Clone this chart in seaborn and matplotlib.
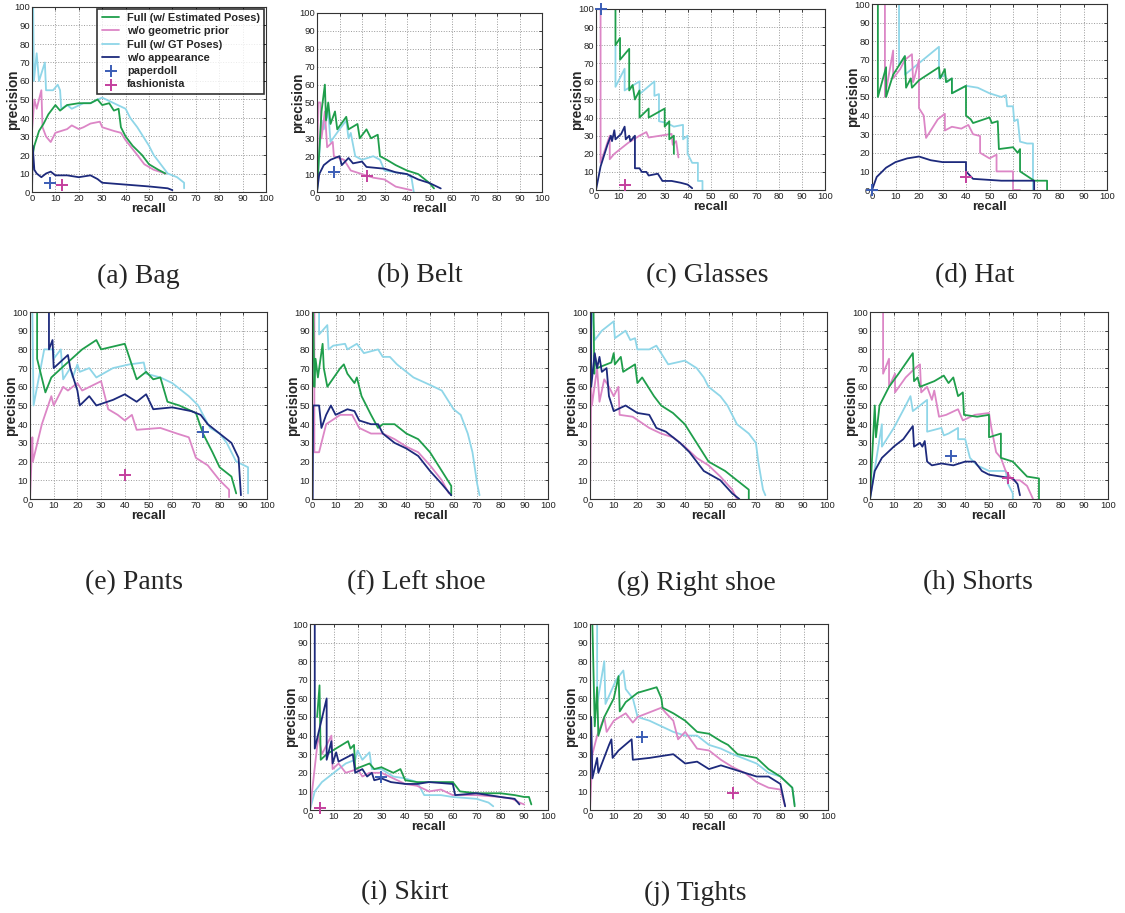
import matplotlib
matplotlib.use("Agg")
import matplotlib.pyplot as plt
import pandas as pd
import seaborn as sns

# ---------------- data (recall, precision) ----------------
SERIES_NAMES = ["Full (w/ Estimated Poses)", "w/o geometric prior",
                "Full (w/ GT Poses)", "w/o appearance"]
MARKER_NAMES = ["paperdoll", "fashionista"]
TICKS = [0, 10, 20, 30, 40, 50, 60, 70, 80, 90, 100]

# (a) Bag
BAG_EST = [(0.3, 20), (1, 25), (3, 33), (5, 37), (7, 42), (10, 47), (12, 44), (15, 47), (20, 48),
           (25, 48), (28, 50), (30, 47), (33, 48), (35, 44), (37, 45), (38, 35), (40, 30), (43, 25),
           (47, 20), (50, 15), (54, 12), (57, 10)]
BAG_NOGEO = [(0, 33), (1, 50), (2, 45), (4, 55), (4.5, 35), (6, 30), (8, 27), (10, 32), (15, 34),
             (17, 36), (20, 34), (22, 35), (25, 37), (29, 38), (30, 35), (35, 33), (38, 32), (40, 28),
             (45, 20), (48, 15), (52, 12), (57, 10)]
BAG_GT = [(0.5, 100), (0.8, 60), (2, 75), (3, 60), (5.5, 70), (6, 55), (9, 55), (11, 58), (12, 55),
          (12.5, 45), (15, 47), (17, 45), (22, 48), (25, 48), (28, 50), (30, 51), (35, 48), (40, 45),
          (42, 40), (45, 35), (50, 25), (52, 20), (55, 15), (58, 10), (62, 8), (65, 5), (65, 2)]
BAG_NOAPP = [(0, 0), (0.3, 25), (1, 12), (2, 10), (4, 8), (6, 10), (8, 11), (10, 9), (15, 9), (20, 8),
             (25, 9), (28, 7), (30, 5), (40, 4), (50, 3), (58, 2), (60, 1)]
BAG_PAPERDOLL = (7.5, 5)
BAG_FASHIONISTA = (13, 4)

# (b) Belt
BELT_EST = [(0, 0), (2, 45), (3.5, 60), (4, 40), (5, 50), (6, 38), (8, 45), (9, 35), (13, 42), (14, 35),
            (18, 38), (19, 30), (22, 35), (24, 30), (27, 32), (28, 20), (31, 18), (35, 15), (40, 12),
            (45, 10), (50, 5), (52, 2)]
BELT_NOGEO = [(0, 0), (0.5, 50), (1.5, 50), (2, 30), (3.5, 45), (4.5, 25), (7, 28), (7.5, 20), (12, 18),
              (15, 12), (20, 10), (25, 8), (30, 7), (35, 3), (42, 1)]
BELT_GT = [(0, 0), (2, 40), (3, 35), (5, 45), (6, 28), (10, 35), (13, 40), (14, 30), (15, 33), (17, 20),
           (20, 18), (25, 20), (28, 18), (30, 12), (40, 10), (42, 8), (43, 0)]
BELT_NOAPP = [(0, 0), (1, 10), (3, 15), (6, 18), (10, 20), (11, 15), (14, 19), (16, 16), (20, 17), (22, 14),
              (30, 13), (35, 11), (40, 10), (45, 7), (50, 5), (55, 2)]
BELT_PAPERDOLL = (7.5, 11)
BELT_FASHIONISTA = (22, 9)

# (c) Glasses
GLASSES_EST = [(1.5, 100), (8.5, 100), (8.5, 80), (10.5, 84), (10.5, 72), (14.5, 78), (14.5, 55), (16, 58),
               (17, 50), (19, 55), (19, 40), (23, 45), (23, 40), (30, 45), (30, 35), (32, 38), (32, 28),
               (34, 30), (34, 20)]
GLASSES_NOGEO = [(2, 100), (2, 15), (6, 30), (6, 17), (8, 20), (10, 22), (14, 26), (19, 30), (22, 32),
                 (23, 29), (28, 30), (33, 31), (33.5, 25), (35, 27), (36, 18)]
GLASSES_GT = [(8.5, 80), (8.5, 57), (12.5, 67), (12.5, 55), (19, 60), (19, 53), (25.5, 60), (25.5, 52),
              (27.5, 53), (27.5, 38), (31, 37), (34, 35), (38, 36), (38, 28), (40, 30), (40, 20), (42, 15),
              (44.5, 15), (44.5, 5), (46.5, 5), (46.5, 0)]
GLASSES_NOAPP = [(0, 0), (2, 13), (5, 25), (6.5, 30), (7, 27), (8, 33), (8.5, 28), (11, 31), (12.5, 35),
                 (13, 28), (14.5, 30), (15, 27), (17, 30), (17, 12), (19, 12), (20, 10), (22, 10), (23, 8),
                 (27, 9), (29, 5), (33, 5), (37, 4), (40, 3), (42, 1)]
GLASSES_PAPERDOLL = (2, 100)
GLASSES_FASHIONISTA = (12.5, 3)

# (d) Hat
HAT_EST = [(2.5, 100), (2.5, 50), (6, 66), (6, 50), (9, 62), (14, 72), (14.5, 55), (16.5, 60), (17, 55),
           (20, 59), (28.5, 66), (29, 60), (31, 65), (31.5, 58), (34, 60), (34, 52), (40, 56), (40, 40),
           (42, 38), (43, 36), (50, 39), (51, 36), (53.5, 37), (54, 22), (60, 23), (62, 20), (63, 22),
           (63, 10), (69, 5), (74.5, 5), (74.5, 0)]
HAT_NOGEO = [(5.5, 100), (5.5, 50), (9, 75), (9, 60), (12, 65), (14, 70), (17, 73), (17.5, 58), (18, 60),
             (20, 70), (20, 44), (22, 40), (23, 28), (28, 38), (31, 41), (31, 32), (34, 34), (38, 33),
             (41, 35), (43, 30), (46, 29), (46, 20), (50, 17), (53, 19), (53, 10), (60, 10), (60, 0), (63, 0)]
HAT_GT = [(6, 100), (11.5, 100), (11.5, 67), (14, 72), (14, 62), (28.5, 77), (28.5, 60), (31, 62), (32, 58),
          (34, 60), (34, 52), (40, 56), (45, 55), (50, 52), (55, 50), (57, 51), (57.5, 45), (60, 45),
          (60.5, 37), (62, 38), (63, 26), (66, 25), (68.5, 25), (68.5, 0)]
HAT_NOAPP = [(0, 0), (2, 7), (6, 12), (10, 15), (15, 17), (20, 18), (25, 16), (30, 15), (35, 15), (40, 15),
             (40, 10), (43, 6), (55, 5), (69, 5), (69, 0)]
HAT_PAPERDOLL = (0, 0)
HAT_FASHIONISTA = (40, 7)

# (e) Pants
PANTS_EST = [(3, 100), (3, 75), (6.5, 57), (9, 65), (15, 72), (22, 80), (28, 85), (30, 80), (40, 83),
             (45, 64), (49, 68), (52, 64), (55, 65), (58, 52), (63, 50), (70, 46), (73, 35), (77, 25),
             (80, 17), (85, 12), (87, 3)]
PANTS_NOGEO = [(0, 0), (1, 33), (1.2, 20), (5, 40), (9, 55), (10, 50), (14, 60), (16, 58), (20, 62),
               (22, 58), (30, 63), (33, 48), (37, 45), (40, 42), (43, 45), (45, 37), (55, 38), (62, 35),
               (67, 33), (70, 22), (75, 18), (80, 10), (84, 5), (84, 1)]
PANTS_GT = [(1, 100), (1.5, 50), (6, 80), (10, 80), (10, 75), (13, 80), (14, 64), (17, 70), (18, 65),
            (20, 72), (21, 68), (25, 70), (28, 65), (35, 70), (42, 72), (48, 73), (49, 67), (55, 65),
            (60, 62), (62, 60), (67, 55), (71, 50), (73, 45), (76, 38), (80, 35), (83, 30), (87, 20),
            (92, 17), (92, 3)]
PANTS_NOAPP = [(0.5, 100), (8, 100), (8, 80), (9.5, 85), (10, 70), (16, 77), (17, 70), (20, 58), (21, 50),
               (25, 55), (28, 50), (35, 53), (40, 56), (45, 52), (49, 56), (52, 48), (60, 49), (68, 47),
               (72, 45), (75, 40), (80, 35), (85, 30), (88, 22), (89, 2)]
PANTS_PAPERDOLL = (73, 36)
PANTS_FASHIONISTA = (40, 13)

# (f) Left shoe
LSHOE_EST = [(0.5, 100), (1, 60), (1.5, 75), (2.5, 65), (4.5, 83), (5, 70), (6.5, 60), (12, 70), (13.5, 72),
             (15, 67), (18, 62), (19, 65), (21, 55), (25, 45), (28, 38), (30, 40), (35, 40), (40, 35),
             (45, 32), (50, 25), (55, 15), (59, 7), (59, 2)]
LSHOE_NOGEO = [(1, 100), (1, 25), (3, 25), (6, 40), (12, 45), (17, 45), (20, 38), (25, 35), (30, 35),
               (35, 32), (40, 28), (45, 25), (50, 18), (55, 10), (58, 3)]
LSHOE_GT = [(1.5, 100), (3, 100), (3, 88), (6.5, 93), (7, 80), (9, 82), (14, 83), (15, 80), (19, 83),
            (22, 78), (28, 80), (30, 76), (33, 76), (36, 72), (40, 68), (43, 65), (50, 61), (55, 58),
            (60, 48), (63, 45), (66, 35), (68, 25), (70, 8), (71, 2)]
LSHOE_NOAPP = [(0.3, 0), (0.5, 50), (3, 50), (4, 38), (6, 45), (8, 50), (10, 45), (15, 48), (18, 47),
               (20, 42), (25, 40), (28, 40), (30, 35), (35, 30), (40, 27), (45, 23), (50, 15), (55, 8),
               (59, 2)]

# (g) Right shoe
RSHOE_EST = [(1.5, 100), (1.8, 67), (2, 77), (3, 70), (7, 72), (9, 73), (10, 78), (10.5, 72), (13, 76),
             (14, 68), (19, 72), (20, 62), (22, 65), (27, 55), (30, 50), (35, 46), (40, 40), (45, 30),
             (50, 20), (57, 15), (67, 5), (67, 0)]
RSHOE_NOGEO = [(0, 0), (0.5, 60), (0.8, 50), (3, 70), (4, 52), (6, 64), (8, 60), (10, 55), (12, 60),
               (12.5, 45), (18, 44), (25, 38), (30, 35), (35, 33), (40, 28), (45, 22), (50, 18), (55, 12),
               (60, 5), (62, 0)]
RSHOE_GT = [(1, 100), (2, 85), (5, 90), (10, 95), (10.5, 86), (15, 90), (17, 85), (19, 86), (20, 80),
            (25, 80), (28, 82), (30, 78), (33, 72), (40, 74), (45, 70), (48, 65), (50, 60), (55, 55),
            (58, 50), (62, 40), (67, 35), (70, 30), (71, 20), (73, 5), (74, 2)]
RSHOE_NOAPP = [(0.5, 100), (0.5, 60), (2, 78), (3, 70), (4, 76), (5, 68), (7, 70), (8, 55), (10, 47),
               (15, 50), (20, 46), (25, 45), (28, 38), (32, 36), (38, 30), (42, 25), (48, 15), (55, 10),
               (60, 3), (63, 0)]

# (h) Shorts
SHORTS_EST = [(0, 0), (2, 50), (2.5, 33), (4, 50), (8, 60), (12, 67), (18, 78), (18.5, 63), (20, 65),
              (21, 60), (27, 63), (31, 66), (33, 62), (35, 65), (37, 55), (39, 57), (39.5, 45), (45, 44),
              (50, 45), (50, 33), (55, 35), (55, 22), (60, 20), (66, 12), (71, 11), (71, 0)]
SHORTS_NOGEO = [(3, 100), (5.5, 100), (5.5, 67), (8, 75), (8, 60), (10.5, 67), (10.5, 57), (15, 65),
                (19, 70), (21, 72), (21.5, 57), (24, 60), (26, 53), (27, 58), (29, 44), (32, 45), (37, 48),
                (39, 42), (44, 45), (50, 46), (51, 38), (53, 25), (55, 22), (57, 15), (60, 10), (63, 10),
                (66, 7), (68.5, 0)]
SHORTS_GT = [(0, 0), (5, 40), (5, 28), (10, 38), (15, 50), (17, 55), (18, 47), (24, 53), (24, 36), (30, 38),
             (31, 34), (33, 35), (37, 38), (37, 32), (40, 32), (42, 22), (45, 18), (50, 15), (57, 15),
             (58, 8), (60, 3), (60, 0)]
SHORTS_NOAPP = [(0, 0), (2, 15), (5, 22), (10, 28), (14, 32), (18, 39), (18.5, 28), (21, 30), (22, 28),
                (23, 31), (24, 20), (26, 18), (30, 19), (35, 18), (40, 20), (44, 20), (47, 15), (50, 13),
                (55, 12), (60, 11), (62, 8), (63, 2)]
SHORTS_PAPERDOLL = (34, 23)
SHORTS_FASHIONISTA = (58, 11)

# (i) Skirt
SKIRT_EST = [(3, 50), (4, 67), (4.5, 27), (7, 30), (16, 37), (17, 33), (18.5, 35), (19, 22), (25, 25),
             (27, 22), (30, 23), (35, 20), (38, 22), (40, 16), (45, 15), (50, 15), (60, 15), (63, 10),
             (70, 9), (80, 9), (86, 8), (90, 7), (92, 7), (93, 3)]
SKIRT_NOGEO = [(0, 0), (3.5, 40), (5, 30), (9, 40), (9.5, 22), (12, 25), (15, 20), (20, 22), (22, 18),
               (25, 20), (30, 20), (35, 17), (40, 14), (45, 13), (50, 10), (55, 11), (60, 8), (70, 8),
               (80, 7), (85, 6), (88, 4), (90, 3)]
SKIRT_GT = [(0, 0), (2, 10), (5, 15), (10, 20), (15, 25), (19, 27), (20, 32), (22, 27), (25, 31), (26, 22),
            (30, 22), (35, 18), (40, 17), (45, 15), (48, 8), (55, 8), (60, 7), (70, 6), (75, 4), (77, 2)]
SKIRT_NOAPP = [(2, 100), (2, 33), (7, 60), (7, 27), (9, 37), (9.5, 25), (11, 31), (12, 26), (15, 28),
               (18, 30), (19, 20), (22, 22), (24, 18), (26, 20), (27, 16), (30, 17), (34, 15), (40, 14),
               (45, 14), (50, 15), (60, 14), (61, 8), (70, 9), (80, 7), (86, 6), (88, 3)]
SKIRT_PAPERDOLL = (30, 18)
SKIRT_FASHIONISTA = (4, 1)

# (j) Tights
TIGHTS_EST = [(1, 100), (2, 45), (3, 66), (3.5, 40), (6, 50), (10, 60), (12, 72), (12.5, 53), (15, 58),
              (20, 63), (28, 66), (30, 60), (30.5, 55), (35, 52), (40, 48), (45, 42), (50, 41), (55, 37),
              (58, 35), (62, 30), (70, 28), (75, 22), (80, 18), (85, 12), (86, 2)]
TIGHTS_NOGEO = [(0, 0), (1, 30), (3, 40), (6, 50), (7, 42), (10, 48), (15, 52), (18, 47), (20, 50),
                (30, 55), (32, 52), (35, 48), (37, 38), (40, 42), (45, 33), (50, 32), (55, 27), (60, 23),
                (65, 20), (70, 15), (75, 12), (80, 11), (82, 2)]
TIGHTS_GT = [(2.5, 100), (3, 100), (3, 57), (6, 80), (6.5, 57), (11, 70), (14, 75), (15, 65), (18, 60),
             (20, 50), (25, 48), (30, 45), (35, 42), (40, 40), (45, 40), (50, 35), (55, 33), (60, 30),
             (70, 25), (75, 20), (80, 18), (85, 12), (86, 3)]
TIGHTS_NOAPP = [(0.5, 50), (1, 17), (3, 28), (3.5, 20), (8, 35), (9, 38), (9.5, 28), (12, 32), (17.5, 38),
                (18, 27), (25, 28), (30, 29), (35, 30), (40, 25), (45, 26), (50, 22), (55, 24), (60, 22),
                (65, 20), (70, 18), (75, 18), (80, 14), (82, 2)]
TIGHTS_PAPERDOLL = (22, 39)
TIGHTS_FASHIONISTA = (60, 9)

# ---------------- styling ----------------
COLORS = {"Full (w/ Estimated Poses)": "#1f9e4b", "w/o geometric prior": "#dc86c6",
          "Full (w/ GT Poses)": "#8fd6e8", "w/o appearance": "#1d2a7c"}
MARK_COLORS = {"paperdoll": "#3b5db5", "fashionista": "#c4409e"}
DRAW_ORDER = ["Full (w/ GT Poses)", "w/o geometric prior", "Full (w/ Estimated Poses)", "w/o appearance"]

# panel pixel boxes: left, top, right, bottom ; caption centre x, y
PANELS = [
    ("(a) Bag", (BAG_EST, BAG_NOGEO, BAG_GT, BAG_NOAPP), BAG_PAPERDOLL, BAG_FASHIONISTA,
     (32, 7, 266, 192), (138, 276)),
    ("(b) Belt", (BELT_EST, BELT_NOGEO, BELT_GT, BELT_NOAPP), BELT_PAPERDOLL, BELT_FASHIONISTA,
     (317, 13, 542, 192), (420, 276)),
    ("(c) Glasses", (GLASSES_EST, GLASSES_NOGEO, GLASSES_GT, GLASSES_NOAPP), GLASSES_PAPERDOLL,
     GLASSES_FASHIONISTA, (596, 9, 825, 190), (707, 276)),
    ("(d) Hat", (HAT_EST, HAT_NOGEO, HAT_GT, HAT_NOAPP), HAT_PAPERDOLL, HAT_FASHIONISTA,
     (872, 4, 1107, 190), (975, 276)),
    ("(e) Pants", (PANTS_EST, PANTS_NOGEO, PANTS_GT, PANTS_NOAPP), PANTS_PAPERDOLL, PANTS_FASHIONISTA,
     (30, 312, 267, 499), (134, 583)),
    ("(f) Left shoe", (LSHOE_EST, LSHOE_NOGEO, LSHOE_GT, LSHOE_NOAPP), None, None,
     (312, 312, 548, 499), (416, 583)),
    ("(g) Right shoe", (RSHOE_EST, RSHOE_NOGEO, RSHOE_GT, RSHOE_NOAPP), None, None,
     (590, 312, 827, 499), (696, 583)),
    ("(h) Shorts", (SHORTS_EST, SHORTS_NOGEO, SHORTS_GT, SHORTS_NOAPP), SHORTS_PAPERDOLL,
     SHORTS_FASHIONISTA, (870, 312, 1108, 499), (978, 583)),
    ("(i) Skirt", (SKIRT_EST, SKIRT_NOGEO, SKIRT_GT, SKIRT_NOAPP), SKIRT_PAPERDOLL, SKIRT_FASHIONISTA,
     (310, 624, 548, 810), (405, 893)),
    ("(j) Tights", (TIGHTS_EST, TIGHTS_NOGEO, TIGHTS_GT, TIGHTS_NOAPP), TIGHTS_PAPERDOLL,
     TIGHTS_FASHIONISTA, (590, 624, 828, 810), (695, 893)),
]

sns.set_theme(style="white")
plt.rcParams["font.family"] = ["Liberation Sans", "DejaVu Sans"]

W, H = 1125, 913
fig = plt.figure(figsize=(W / 100, H / 100), dpi=100)
fig.patch.set_facecolor("white")

for idx, (caption, series, pdoll, fash, box, cap) in enumerate(PANELS):
    l, t, r, b = box
    ax = fig.add_axes([l / W, 1 - b / H, (r - l) / W, (b - t) / H])
    data = dict(zip(SERIES_NAMES, series))
    for name in DRAW_ORDER:
        df = pd.DataFrame(data[name], columns=["recall", "precision"])
        sns.lineplot(data=df, x="recall", y="precision", ax=ax, sort=False, estimator=None,
                     color=COLORS[name], linewidth=1.3, label=name if idx == 0 else None)
    for mname, pt in zip(MARKER_NAMES, (pdoll, fash)):
        if pt is None:
            continue
        dfm = pd.DataFrame([pt], columns=["recall", "precision"])
        sns.scatterplot(data=dfm, x="recall", y="precision", ax=ax, marker="+", s=70,
                        linewidth=1.4, color=MARK_COLORS[mname], clip_on=False,
                        label=mname if idx == 0 else None, zorder=5)
    ax.set_xlim(0, 100)
    ax.set_ylim(0, 100)
    ax.set_xticks(TICKS)
    ax.set_yticks(TICKS)
    ax.tick_params(axis="both", labelsize=6.8, colors="#222222", direction="in", length=2.5,
                   pad=1.5, top=True, right=True, width=0.6)
    ax.grid(True, linestyle=":", color="#9a9a9a", linewidth=0.7)
    for sp in ax.spines.values():
        sp.set_color("#333333")
        sp.set_linewidth(0.8)
    ax.set_xlabel("recall", fontsize=9.5, fontweight="bold", labelpad=0)
    ax.set_ylabel("precision", fontsize=9.8, fontweight="bold")
    ax.yaxis.set_label_coords(-12.0 / (r - l), 0.5)
    if idx == 0:
        hs, ls = ax.get_legend_handles_labels()
        order = SERIES_NAMES + MARKER_NAMES
        pairs = sorted(zip(hs, ls), key=lambda p: order.index(p[1]))
        leg = ax.legend([p[0] for p in pairs], [p[1] for p in pairs], loc="upper right",
                        prop={"weight": "bold", "size": 7.9}, frameon=True, fancybox=False,
                        borderaxespad=0.15, handlelength=1.6, labelspacing=0.3,
                        borderpad=0.4, handletextpad=0.7)
        leg.get_frame().set_edgecolor("black")
        leg.get_frame().set_linewidth(1.2)
    else:
        lg = ax.get_legend()
        if lg is not None:
            lg.remove()
    fig.text(cap[0] / W, 1 - cap[1] / H, caption, ha="center", va="center",
             fontsize=20, family=["Liberation Serif", "DejaVu Serif"])

fig.savefig("out.png", dpi=100, facecolor="white")
